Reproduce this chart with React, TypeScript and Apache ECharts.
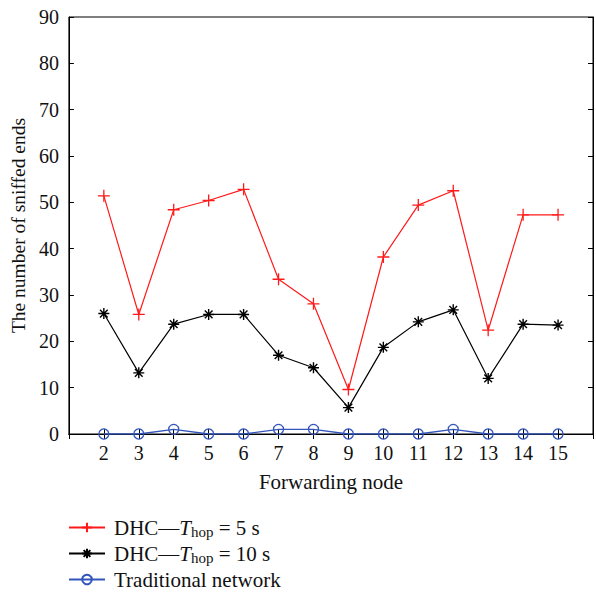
import React, { useEffect, useRef } from "react";
import * as echarts from "echarts";

const nodes = [2, 3, 4, 5, 6, 7, 8, 9, 10, 11, 12, 13, 14, 15];
const dhc5 = [51.4, 25.8, 48.4, 50.4, 52.8, 33.4, 28.1, 9.6, 38.2, 49.4, 52.5, 22.4, 47.3, 47.3];
const dhc10 = [26.0, 13.2, 23.7, 25.8, 25.8, 17.0, 14.3, 5.7, 18.7, 24.2, 26.8, 12.0, 23.7, 23.5];
const traditional = [0, 0, 1, 0, 0, 1, 1, 0, 0, 0, 1, 0, 0, 0];
const seriesNames = ["DHC—Thop = 5 s", "DHC—Thop = 10 s", "Traditional network"];

const FONT = "'Liberation Serif', 'DejaVu Serif', serif";
const PLUS = "path://M0,-1 L0,1 M-1,0 L1,0";
const STAR = "path://M-1,0 L1,0 M0,-1 L0,1 M-0.7,-0.7 L0.7,0.7 M-0.7,0.7 L0.7,-0.7";

export default function App() {
  const ref = useRef<HTMLDivElement>(null);
  useEffect(() => {
    if (!ref.current) return;
    const chart = echarts.init(ref.current, null, { renderer: "svg" });
    const pts = (vals: number[]) => nodes.map((n, i) => [n, vals[i]]);
    const rich = {
      a: { fontFamily: FONT, fontSize: 21, color: "#111", lineHeight: 24 },
      i: { fontFamily: FONT, fontSize: 21, color: "#111", lineHeight: 24, fontStyle: "italic" },
      s: { fontFamily: FONT, fontSize: 15, color: "#111", lineHeight: 14, verticalAlign: "bottom" },
    };
    chart.setOption({
      animation: false,
      backgroundColor: "#fff",
      grid: { left: 68, right: 1, top: 17, bottom: 161, show: true, borderColor: "#000", borderWidth: 1 },
      legend: {
        orient: "vertical",
        left: 63,
        top: 512,
        height: 150,
        itemWidth: 36,
        itemHeight: 12,
        itemGap: 3.5,
        data: seriesNames,
        formatter: (name: string) => {
          if (name === seriesNames[0]) return "{a|DHC—}{i|T}{s|hop}{a| = 5 s}";
          if (name === seriesNames[1]) return "{a|DHC—}{i|T}{s|hop}{a| = 10 s}";
          return "{a|Traditional network}";
        },
        textStyle: { rich, fontFamily: FONT, fontSize: 21, color: "#111", padding: [0, 0, 0, 4] },
      },
      xAxis: [
        {
          type: "value",
          min: 1,
          max: 16,
          interval: 1,
          name: "Forwarding node",
          nameLocation: "middle",
          nameGap: 37,
          nameTextStyle: { fontFamily: FONT, fontSize: 21, color: "#111" },
          axisLine: { show: true, lineStyle: { color: "#000" } },
          axisTick: { show: true, inside: true, length: 5, lineStyle: { color: "#000" } },
          axisLabel: {
            fontFamily: FONT,
            fontSize: 20,
            color: "#111",
            margin: 9,
            formatter: (v: number) => (v >= 2 && v <= 15 ? String(v) : ""),
          },
          splitLine: { show: false },
        },
        {
          type: "value",
          position: "top",
          min: 1,
          max: 16,
          interval: 1,
          axisLine: { show: true, lineStyle: { color: "#000" } },
          axisTick: { show: true, inside: true, length: 5, lineStyle: { color: "#000" } },
          axisLabel: { show: false },
          splitLine: { show: false },
        },
      ],
      yAxis: [
        {
          type: "value",
          min: 0,
          max: 90,
          interval: 10,
          name: "The number of sniffed ends",
          nameLocation: "middle",
          nameGap: 38,
          nameTextStyle: { fontFamily: FONT, fontSize: 19.5, color: "#111" },
          axisLine: { show: true, lineStyle: { color: "#000" } },
          axisTick: { show: true, inside: true, length: 5, lineStyle: { color: "#000" } },
          axisLabel: { fontFamily: FONT, fontSize: 20, color: "#111", margin: 10 },
          splitLine: { show: false },
        },
        {
          type: "value",
          position: "right",
          min: 0,
          max: 90,
          interval: 10,
          axisLine: { show: true, lineStyle: { color: "#000" } },
          axisTick: { show: true, inside: true, length: 5, lineStyle: { color: "#000" } },
          axisLabel: { show: false },
          splitLine: { show: false },
        },
      ],
      series: [
        {
          name: seriesNames[0],
          type: "line",
          data: pts(dhc5),
          symbol: PLUS,
          symbolSize: 12,
          lineStyle: { color: "#ff1a1a", width: 1.2 },
          itemStyle: { color: "#ff1a1a", borderColor: "#ff1a1a", borderWidth: 1.3 },
        },
        {
          name: seriesNames[1],
          type: "line",
          data: pts(dhc10),
          symbol: STAR,
          symbolSize: 11,
          lineStyle: { color: "#000", width: 1.2 },
          itemStyle: { color: "#000", borderColor: "#000", borderWidth: 1.4 },
        },
        {
          name: seriesNames[2],
          type: "line",
          data: pts(traditional),
          symbol: "circle",
          symbolSize: 10,
          lineStyle: { color: "#3355bb", width: 1.3 },
          itemStyle: { color: "rgba(0,0,0,0)", borderColor: "#3355bb", borderWidth: 1.3 },
        },
      ],
    });
    return () => chart.dispose();
  }, []);
  return <div ref={ref} style={{ width: 596, height: 595, position: "absolute", left: 0, top: 0 }} />;
}
